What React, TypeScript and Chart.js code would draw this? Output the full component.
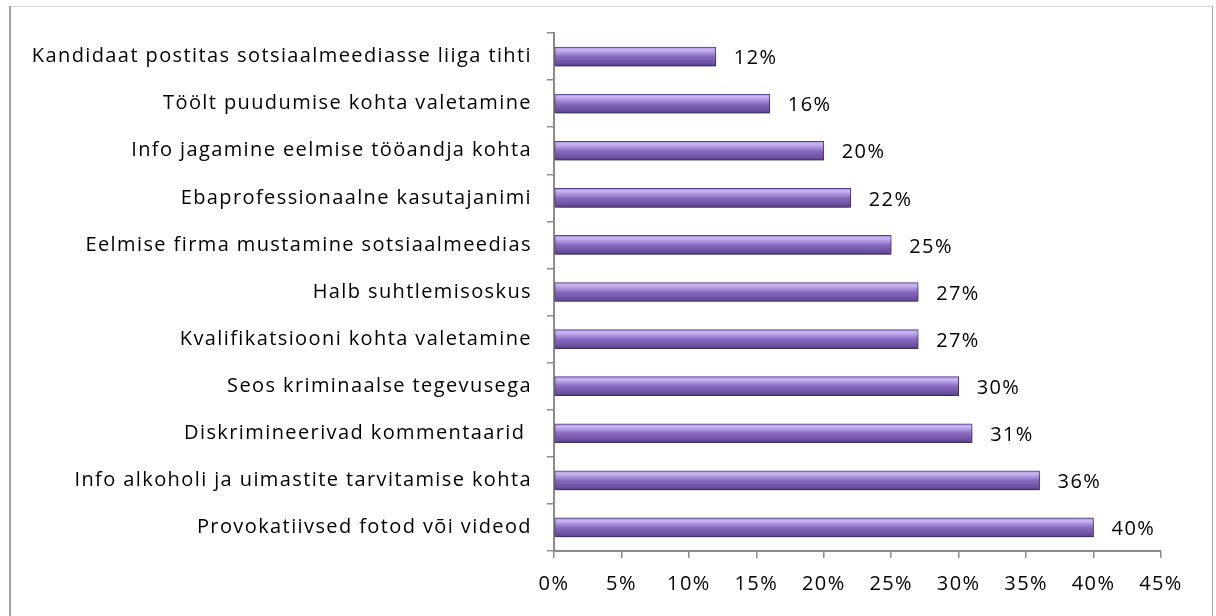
import React, { useEffect, useRef } from "react";
import { Chart, registerables } from "chart.js";

Chart.register(...registerables);

const categories = [
  "Kandidaat postitas sotsiaalmeediasse liiga tihti",
  "Töölt puudumise kohta valetamine",
  "Info jagamine eelmise tööandja kohta",
  "Ebaprofessionaalne kasutajanimi",
  "Eelmise firma mustamine sotsiaalmeedias",
  "Halb suhtlemisoskus",
  "Kvalifikatsiooni kohta valetamine",
  "Seos kriminaalse tegevusega",
  "Diskrimineerivad kommentaarid ",
  "Info alkoholi ja uimastite tarvitamise kohta",
  "Provokatiivsed fotod või videod",
];

const values = [12, 16, 20, 22, 25, 27, 27, 30, 31, 36, 40];

const axisMin = 0;
const axisMax = 45;
const axisStep = 5;

const FONT = "'Open Sans'";
const SIZE = 20;
const SPACING = "1.4px";

export default function App() {
  const ref = useRef<HTMLCanvasElement | null>(null);

  useEffect(() => {
    const canvas = ref.current;
    if (!canvas) return;

    const spacingPlugin = {
      id: "spacing",
      beforeLayout(chart: any) {
        (chart.ctx as any).letterSpacing = SPACING;
      },
      beforeDraw(chart: any) {
        (chart.ctx as any).letterSpacing = SPACING;
      },
    };

    const barStylePlugin = {
      id: "barStyle",
      beforeDatasetsDraw(chart: any) {
        const ctx = chart.ctx;
        const meta = chart.getDatasetMeta(0);
        meta.data.forEach((bar: any) => {
          const h = bar.height;
          const top = bar.y - h / 2;
          const g = ctx.createLinearGradient(0, top, 0, top + h);
          g.addColorStop(0, "#a088d4");
          g.addColorStop(0.14, "#ccb8f4");
          g.addColorStop(0.32, "#aa91de");
          g.addColorStop(0.52, "#8668bd");
          g.addColorStop(0.85, "#6e50a2");
          g.addColorStop(1, "#523a7d");
          bar.options = Object.assign({}, bar.options, { backgroundColor: g });
        });
        ctx.save();
        ctx.shadowColor = "rgba(0,0,0,0.4)";
        ctx.shadowBlur = 6;
        ctx.shadowOffsetX = 1;
        ctx.shadowOffsetY = 4;
      },
      afterDatasetsDraw(chart: any) {
        const ctx = chart.ctx;
        ctx.restore();
        const meta = chart.getDatasetMeta(0);
        ctx.save();
        ctx.font = `${SIZE}px ${FONT}`;
        ctx.fillStyle = "#000000";
        ctx.textAlign = "left";
        ctx.textBaseline = "middle";
        meta.data.forEach((bar: any, i: number) => {
          ctx.fillText(`${values[i]}%`, bar.x + 18, bar.y + 2);
        });
        ctx.restore();
      },
      afterDraw(chart: any) {
        const ctx = chart.ctx;
        ctx.save();
        ctx.lineWidth = 1;
        ctx.strokeStyle = "#d9d9d9";
        ctx.beginPath();
        ctx.moveTo(9, 6.5);
        ctx.lineTo(1213, 6.5);
        ctx.stroke();
        ctx.strokeStyle = "#a0a0a0";
        ctx.lineWidth = 2;
        ctx.beginPath();
        ctx.moveTo(10, 6);
        ctx.lineTo(10, 616);
        ctx.stroke();
        ctx.lineWidth = 1;
        ctx.strokeStyle = "#a6a6a6";
        ctx.beginPath();
        ctx.moveTo(1212.5, 6);
        ctx.lineTo(1212.5, 616);
        ctx.stroke();
        ctx.restore();
      },
    };

    const chart = new Chart(canvas, {
      type: "bar",
      data: {
        labels: categories,
        datasets: [
          {
            data: values,
            backgroundColor: "#8163b8",
            borderColor: "#5a4188",
            borderWidth: 1,
            borderSkipped: false,
            barThickness: 19,
          },
        ],
      },
      options: {
        indexAxis: "y",
        responsive: false,
        animation: false,
        layout: { padding: { top: 33, right: 55, bottom: 0, left: 0 } },
        plugins: {
          legend: { display: false },
          tooltip: { enabled: false },
        },
        scales: {
          x: {
            min: axisMin,
            max: axisMax,
            grid: {
              drawOnChartArea: false,
              drawTicks: true,
              tickLength: 7,
              color: "#8c8c8c",
              lineWidth: 1.5,
            },
            border: { display: true, color: "#8c8c8c", width: 2 },
            ticks: {
              stepSize: axisStep,
              color: "#000000",
              font: { family: FONT, size: SIZE },
              padding: 14,
              callback: (v: any) => `${v}%`,
            },
            afterFit(scale: any) {
              scale.height = 65;
            },
          },
          y: {
            grid: {
              offset: true,
              drawOnChartArea: false,
              drawTicks: true,
              tickLength: 7,
              color: "#8c8c8c",
              lineWidth: 1.5,
            },
            border: { display: true, color: "#8c8c8c", width: 2 },
            ticks: {
              color: "#000000",
              font: { family: FONT, size: SIZE },
              padding: 15,
              autoSkip: false,
            },
            afterFit(scale: any) {
              scale.width = 554;
            },
          },
        },
      },
      plugins: [spacingPlugin, barStylePlugin],
    });

    return () => chart.destroy();
  }, []);

  return (
    <div style={{ position: "absolute", left: 0, top: 0, width: 1216, height: 616, background: "#ffffff" }}>
      <canvas ref={ref} width={1216} height={616} style={{ display: "block" }} />
    </div>
  );
}
